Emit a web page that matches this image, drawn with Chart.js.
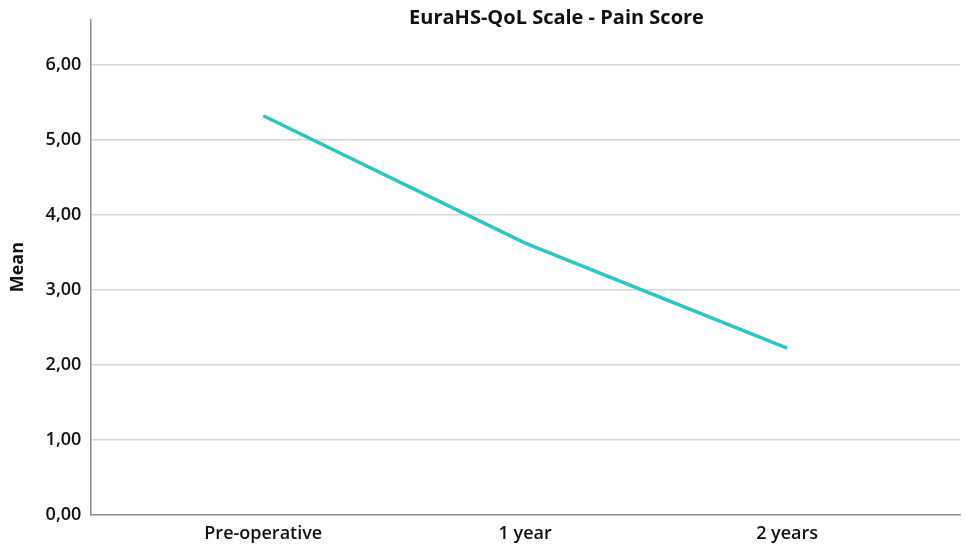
<!DOCTYPE html>
<html>
<head>
<meta charset="utf-8">
<script src="https://cdn.jsdelivr.net/npm/chart.js@4/dist/chart.umd.min.js"></script>
<style>
  html, body { margin: 0; padding: 0; background: #fff; }
  #wrap { width: 965px; height: 546px; }
</style>
</head>
<body>
<div id="wrap"><canvas id="chartPain" width="965" height="546"></canvas></div>
<script>
let tituloGrafico = 'EuraHS-QoL Scale - Pain Score'
let categorias = ['Pre-operative', '1 year', '2 years']
let valoresMedia = [5.32, 3.62, 2.22]
let ticksY = ['0,00', '1,00', '2,00', '3,00', '4,00', '5,00', '6,00']

const fuente = '"Open Sans", "DejaVu Sans", sans-serif'

// titulo dibujado a mano, va un poco corrido a la derecha del centro
const pluginTitulo = {
    id: 'pluginTitulo',
    afterDraw(chart) {
        let ctx = chart.ctx
        let area = chart.chartArea
        ctx.save()
        ctx.font = 'bold 20px ' + fuente
        ctx.fillStyle = '#111'
        ctx.textAlign = 'center'
        ctx.textBaseline = 'middle'
        ctx.fillText(tituloGrafico, area.left + area.width * 0.536, 18)
        ctx.restore()
    }
}

const data = {
    datasets: [{
        data: valoresMedia.map((v, i) => ({ x: i, y: v })),
        borderColor: '#2cc5c0',
        borderWidth: 3.5,
        pointRadius: 0,
        tension: 0,
        fill: false
    }]
}

const config = {
    type: 'line',
    data: data,
    options: {
        responsive: false,
        animation: false,
        layout: { padding: { top: 11, right: 5, left: 7, bottom: 0 } },
        plugins: {
            legend: { display: false },
            title: { display: false },
            tooltip: { enabled: false }
        },
        scales: {
            x: {
                type: 'linear',
                min: -0.66,
                max: 2.66,
                afterBuildTicks: (axis) => {
                    axis.ticks = categorias.map((c, i) => ({ value: i }))
                },
                ticks: {
                    callback: (v) => categorias[v],
                    color: '#111',
                    font: { family: fuente, size: 18, weight: '600' },
                    padding: 1
                },
                grid: { display: false },
                border: { display: true, color: '#8a8a8a', width: 1.5 }
            },
            y: {
                min: 0,
                max: 6.6,
                afterBuildTicks: (axis) => {
                    axis.ticks = ticksY.map((t, i) => ({ value: i }))
                },
                ticks: {
                    callback: (v) => ticksY[v],
                    color: '#111',
                    font: { family: fuente, size: 18, weight: '600' },
                    padding: 9
                },
                grid: {
                    color: (c) => c.tick && c.tick.value === 0 ? 'rgba(0,0,0,0)' : '#d6d6d6',
                    lineWidth: 1.5,
                    drawTicks: false
                },
                border: { display: true, color: '#8a8a8a', width: 1.5 },
                title: {
                    display: true,
                    text: 'Mean',
                    color: '#111',
                    font: { family: fuente, size: 18, weight: 'bold' },
                    padding: { top: 0, bottom: 8 }
                }
            }
        }
    },
    plugins: [pluginTitulo]
}

let miGrafico = new Chart(document.getElementById('chartPain'), config)
</script>
</body>
</html>
